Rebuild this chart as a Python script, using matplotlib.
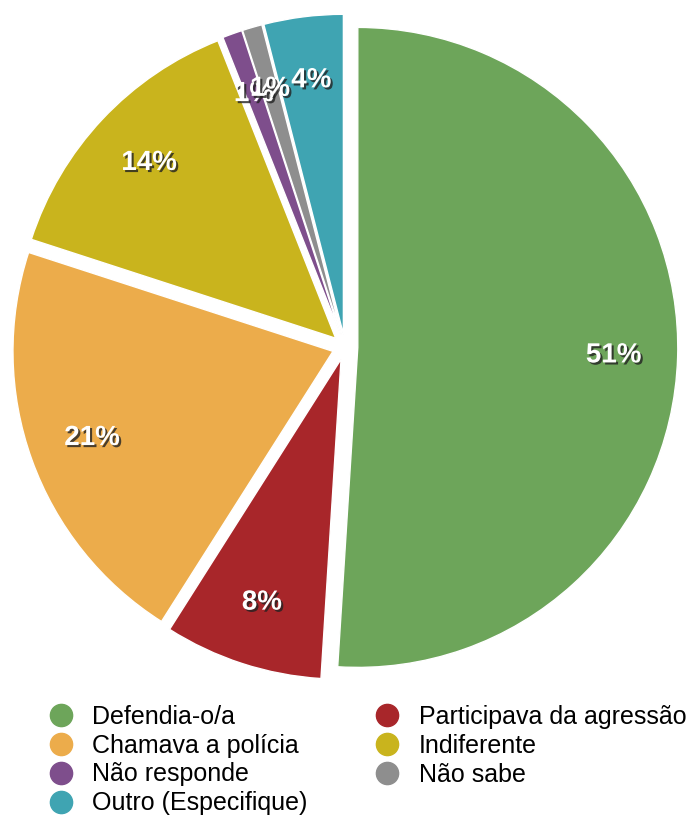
import matplotlib
matplotlib.use("Agg")
import matplotlib.pyplot as plt
from matplotlib.lines import Line2D
import matplotlib.patheffects as pe

labels = ["Defendia-o/a", "Participava da agressão", "Chamava a polícia", "Indiferente",
          "Não responde", "Não sabe", "Outro (Especifique)"]
values = [51, 8, 21, 14, 1, 1, 4]
colors = ["#6DA55A", "#A8262A", "#ECAC4B", "#C9B41D", "#7E4E8C", "#8E8E8E", "#3FA4B2"]

plt.rcParams['font.family'] = ['Liberation Sans', 'DejaVu Sans']

fig = plt.figure(figsize=(6.91, 8.17), dpi=100)
ax = fig.add_axes([25/691, (817-667)/817, 640/691, 640/817])
wedges, texts, autotexts = ax.pie(
    values, colors=colors, startangle=90, counterclock=False,
    explode=[0.04]*len(values), autopct='%d%%', pctdistance=0.80,
    wedgeprops=dict(edgecolor='white', linewidth=1.0))
for t in autotexts:
    t.set_color('white')
    t.set_fontsize(20)
    t.set_fontweight('bold')
    t.set_path_effects([pe.withSimplePatchShadow(offset=(1.5, -1.5), shadow_rgbFace='#222222', alpha=0.8)])
ax.set_xlim(-1.0, 1.0)
ax.set_ylim(-1.0, 1.0)
ax.set_aspect('equal')
ax.axis('off')

order = [0, 2, 4, 6, 1, 3, 5]
handles = [Line2D([0], [0], marker='o', linestyle='', markersize=16,
                  markerfacecolor=colors[i], markeredgecolor=colors[i]) for i in order]
fig.legend(handles, [labels[i] for i in order], ncol=2, loc='upper left',
           bbox_to_anchor=(42/691, (817-705)/817), frameon=False, fontsize=18,
           labelspacing=0.19, handletextpad=0.5, columnspacing=2.45, borderpad=0,
           handlelength=1.5, borderaxespad=0)

fig.savefig("out.png", dpi=100)
